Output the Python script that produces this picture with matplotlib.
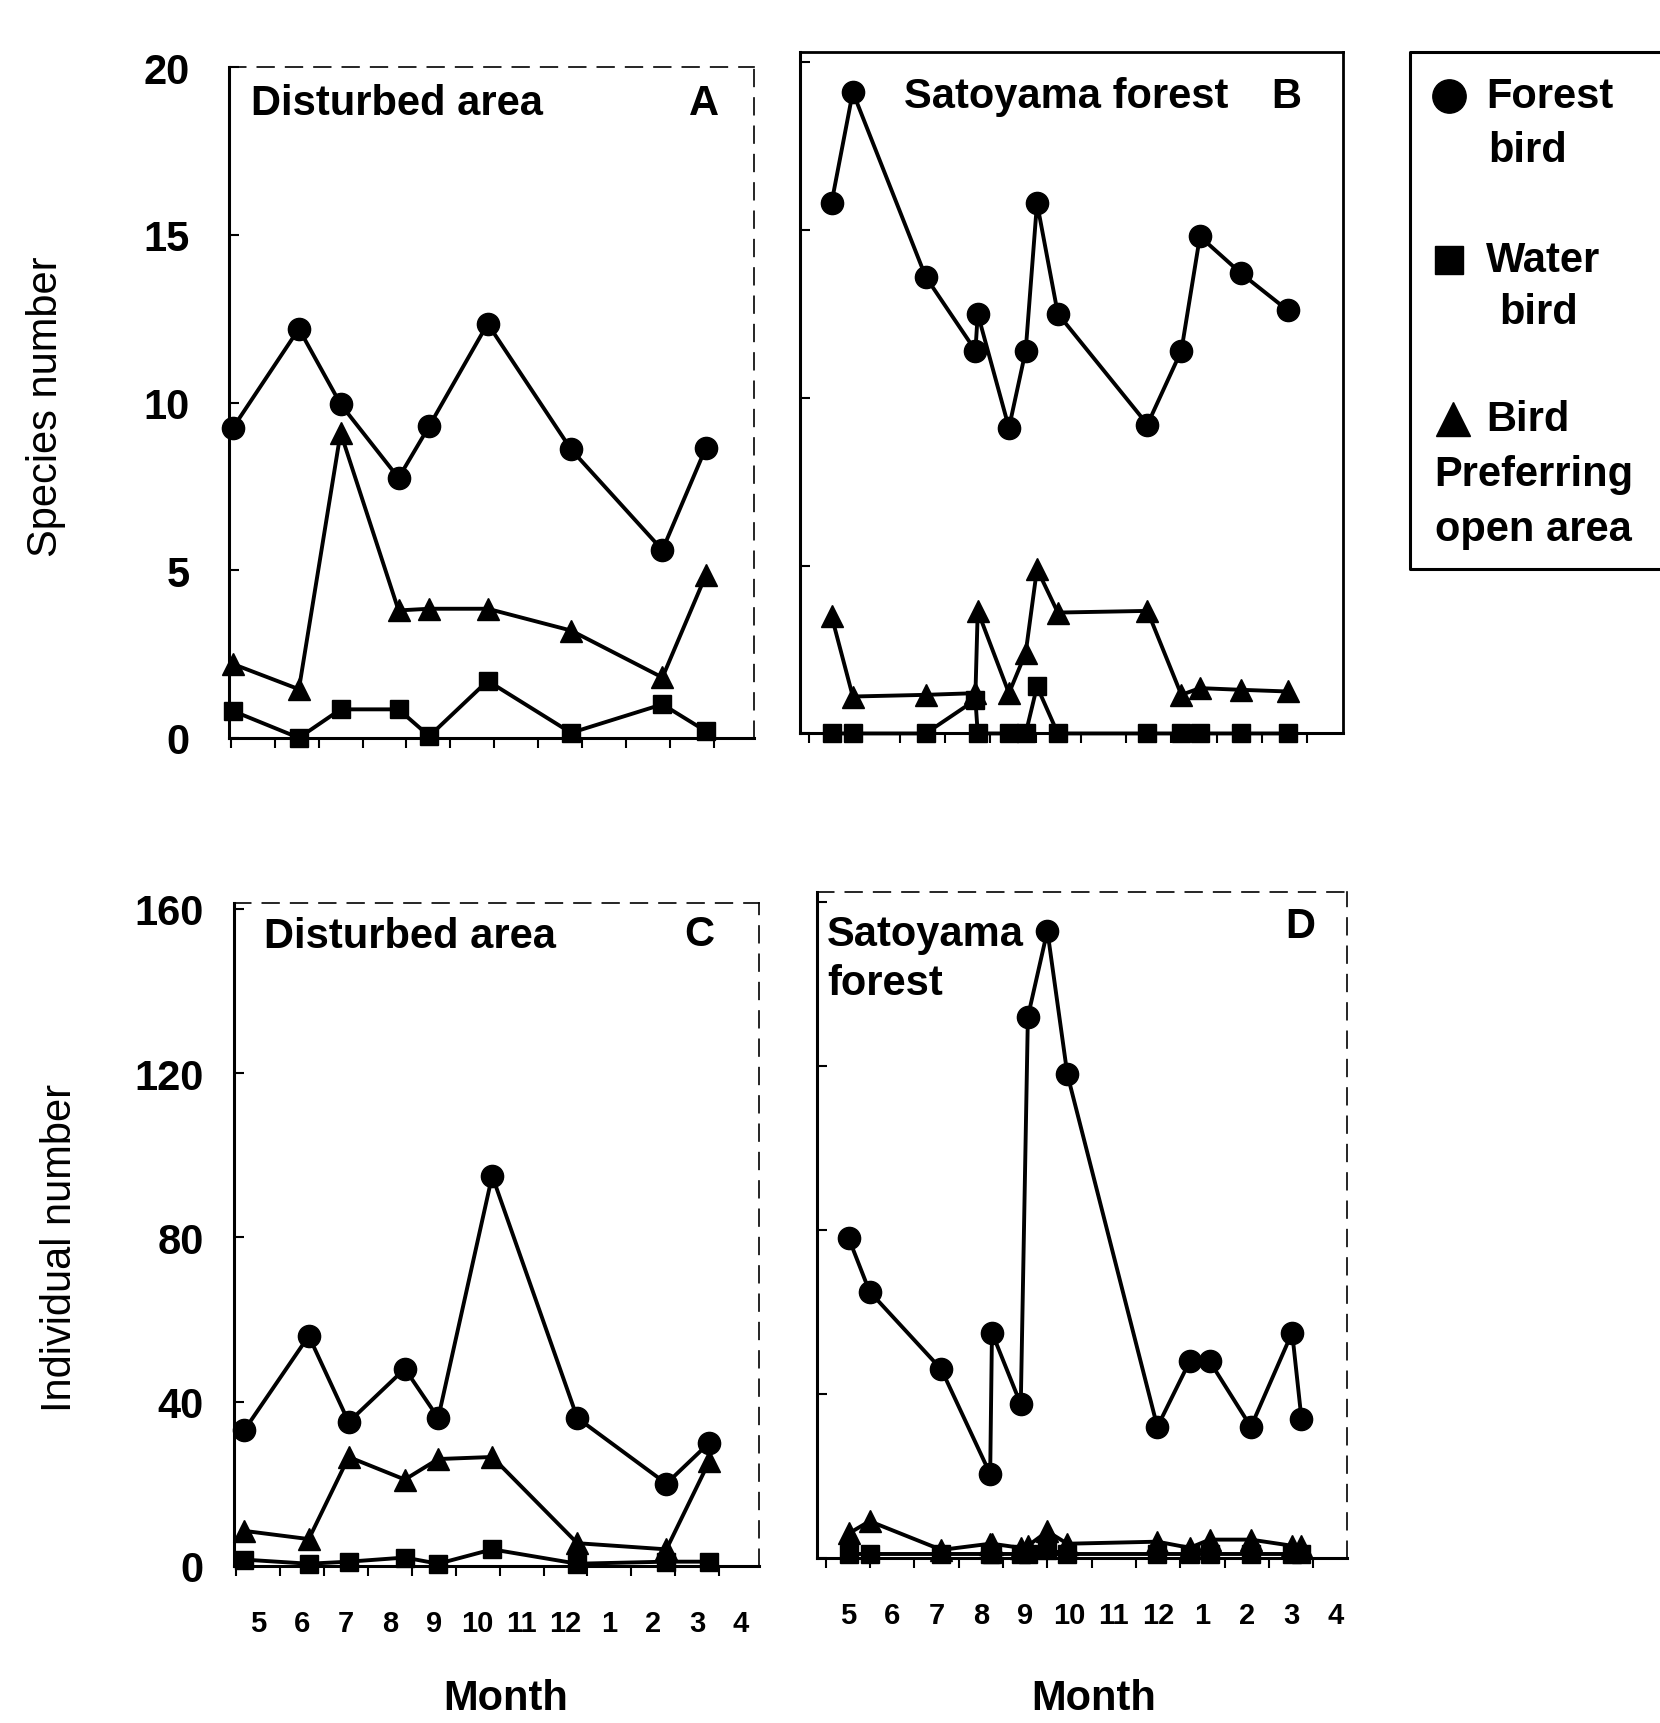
import matplotlib
matplotlib.use('Agg')
import matplotlib.pyplot as plt

plt.rcParams['font.family'] = ['Liberation Sans', 'DejaVu Sans']

# ---------------- data ----------------
month_labels = ['5', '6', '7', '8', '9', '10', '11', '12', '1', '2', '3', '4']
month_pos = [5, 6, 7, 8, 9, 10, 11, 12, 13, 14, 15, 16]

# Panel A : species number, disturbed area
a_x = [4.55, 6.05, 7.0, 8.32, 9.02, 10.35, 12.25, 14.33, 15.32]
a_forest = [9.25, 12.2, 9.95, 7.75, 9.3, 12.35, 8.6, 5.6, 8.65]
a_water = [0.8, 0.0, 0.85, 0.85, 0.05, 1.7, 0.15, 1.0, 0.2]
a_open = [2.2, 1.45, 9.1, 3.8, 3.85, 3.85, 3.2, 1.8, 4.85]

# Panel B : species number, satoyama forest
b_x = [4.99, 5.46, 7.07, 8.17, 8.22, 8.91, 9.28, 9.53, 9.99, 11.97, 12.72, 13.13, 14.04, 15.07]
b_forest = [15.8, 19.1, 13.6, 11.4, 12.5, 9.1, 11.4, 15.8, 12.5, 9.2, 11.4, 14.8, 13.7, 12.6]
b_water = [0, 0, 0, 1.0, 0, 0, 0, 1.4, 0, 0, 0, 0, 0, 0]
b_open = [3.5, 1.1, 1.15, 1.2, 3.65, 1.2, 2.4, 4.9, 3.6, 3.65, 1.15, 1.35, 1.3, 1.25]

# Panel C : individual number, disturbed area
c_x = [4.68, 6.15, 7.06, 8.34, 9.1, 10.33, 12.27, 14.3, 15.28]
c_forest = [33, 56, 35, 48, 36, 95, 36, 20, 30]
c_water = [1.5, 0.5, 1, 2, 0.5, 4, 0.5, 1, 1]
c_open = [8.5, 6.5, 26.5, 21, 26, 26.5, 5.5, 4, 25.5]

# Panel D : individual number, satoyama forest
d_x = [5.02, 5.49, 7.11, 8.21, 8.25, 8.9, 9.06, 9.5, 9.95, 11.98, 12.71, 13.16, 14.09, 15.02, 15.23]
d_forest = [78, 65, 46, 20.5, 55, 37.5, 132, 153, 118, 32, 48, 48, 32, 55, 34]
d_water = [1, 1, 1, 1, 1, 1, 1, 2, 1, 1, 1, 1, 1, 1, 1]
d_open = [6, 9, 2, 3.5, 3.5, 2.5, 3, 6.5, 3.5, 4, 2.5, 4.5, 4.5, 3, 3]

# ---------------- figure ----------------
fig = plt.figure(figsize=(16.6, 17.24), dpi=100)

W, H = 1510.0, 1568.0


def box(l, t, r, b):
    return [l / W, 1 - b / H, (r - l) / W, (b - t) / H]


axA = fig.add_axes(box(208, 62, 686, 672))
axB = fig.add_axes(box(728, 48, 1222, 668))
axC = fig.add_axes(box(213, 822, 690, 1425))
axD = fig.add_axes(box(743, 812, 1225, 1418))

LW = 2.8
MS = 16


def draw(ax, x, forest, water, opn):
    ax.plot(x, forest, color='black', lw=LW, marker='o', ms=MS, clip_on=False, zorder=3)
    ax.plot(x, water, color='black', lw=LW, marker='s', ms=MS - 3, clip_on=False, zorder=3)
    ax.plot(x, opn, color='black', lw=LW, marker='^', ms=MS, clip_on=False, zorder=3)


def style(ax, xlim, ylim, yticks, ylabels, month_text, pad_y, dashed=True):
    ax.set_xlim(*xlim)
    ax.set_ylim(*ylim)
    bounds = [m + 0.5 for m in range(4, 17)]
    bounds = [b for b in bounds if xlim[0] <= b <= xlim[1]]
    ax.set_xticks(bounds)
    ax.set_xticklabels([])
    ax.tick_params(axis='x', which='major', direction='out', length=7, width=1.5)
    if month_text:
        ax.set_xticks(month_pos, minor=True)
        ax.set_xticklabels(month_labels, minor=True, fontsize=21, fontweight='bold')
        ax.tick_params(axis='x', which='minor', length=0, pad=31)
    ax.set_yticks(yticks)
    if ylabels:
        ax.set_yticklabels([str(v) for v in yticks], fontsize=30, fontweight='bold')
    else:
        ax.set_yticklabels([])
    ax.tick_params(axis='y', direction='in', length=7, width=1.5, pad=pad_y)
    for s in ['left', 'bottom']:
        ax.spines[s].set_linewidth(2.2)
    for s in ['top', 'right']:
        if dashed:
            ax.spines[s].set_linewidth(1.2)
            ax.spines[s].set_linestyle((0, (10, 7)))
        else:
            ax.spines[s].set_linewidth(2.0)


draw(axA, a_x, a_forest, a_water, a_open)
draw(axB, b_x, b_forest, b_water, b_open)
draw(axC, c_x, c_forest, c_water, c_open)
draw(axD, d_x, d_forest, d_water, d_open)

style(axA, (4.45, 16.42), (0, 20), [0, 5, 10, 15, 20], True, False, 28)
style(axB, (4.3, 16.3), (0, 20.3), [0, 5, 10, 15, 20], False, False, 28, dashed=False)
style(axC, (4.45, 16.4), (0, 161.5), [0, 40, 80, 120, 160], True, True, 22)
style(axD, (4.3, 16.25), (0, 162.5), [0, 40, 80, 120, 160], False, True, 22)

TF = 30
axA.text(0.042, 0.946, 'Disturbed area', transform=axA.transAxes, fontsize=TF,
         fontweight='bold', ha='left', va='center')
axA.text(0.904, 0.946, 'A', transform=axA.transAxes, fontsize=TF,
         fontweight='bold', ha='center', va='center')
axB.text(0.19, 0.935, 'Satoyama forest', transform=axB.transAxes, fontsize=TF,
         fontweight='bold', ha='left', va='center')
axB.text(0.895, 0.935, 'B', transform=axB.transAxes, fontsize=TF,
         fontweight='bold', ha='center', va='center')
axC.text(0.057, 0.950, 'Disturbed area', transform=axC.transAxes, fontsize=TF,
         fontweight='bold', ha='left', va='center')
axC.text(0.887, 0.953, 'C', transform=axC.transAxes, fontsize=TF,
         fontweight='bold', ha='center', va='center')
axD.text(0.019, 0.90, 'Satoyama\nforest', transform=axD.transAxes, fontsize=TF,
         fontweight='bold', ha='left', va='center', linespacing=1.3)
axD.text(0.913, 0.949, 'D', transform=axD.transAxes, fontsize=TF,
         fontweight='bold', ha='center', va='center')

axC.text(0.518, -0.199, 'Month', transform=axC.transAxes, fontsize=TF,
         fontweight='bold', ha='center', va='center')
axD.text(0.523, -0.21, 'Month', transform=axD.transAxes, fontsize=TF,
         fontweight='bold', ha='center', va='center')

fig.text(42 / W, 1 - 370 / H, 'Species number', rotation=90, fontsize=30,
         ha='center', va='center')
fig.text(55 / W, 1 - 1135 / H, 'Individual number', rotation=90, fontsize=30,
         ha='center', va='center')

# ---------------- legend box ----------------
axL = fig.add_axes(box(1283, 48, 1510, 518))
axL.set_xlim(0, 227)
axL.set_ylim(470, 0)
axL.axis('off')
axL.plot([240, 0, 0, 240], [0, 0, 470, 470], color='black', lw=2.2,
         clip_on=False)
axL.plot([35], [40], marker='o', ms=24, color='black', clip_on=False)
axL.plot([35], [189], marker='s', ms=20, color='black', clip_on=False)
axL.plot([39], [334], marker='^', ms=24, color='black', clip_on=False)
LF = 30
axL.text(69, 40, 'Forest', fontsize=LF, fontweight='bold', ha='left', va='center')
axL.text(107, 89, 'bird', fontsize=LF, fontweight='bold', ha='center', va='center')
axL.text(69, 189, 'Water', fontsize=LF, fontweight='bold', ha='left', va='center')
axL.text(117, 237, 'bird', fontsize=LF, fontweight='bold', ha='center', va='center')
axL.text(69, 334, 'Bird', fontsize=LF, fontweight='bold', ha='left', va='center')
axL.text(22, 384, 'Preferring', fontsize=LF, fontweight='bold', ha='left', va='center')
axL.text(22, 434, 'open area', fontsize=LF, fontweight='bold', ha='left', va='center')

fig.savefig('out.png', dpi=100)
